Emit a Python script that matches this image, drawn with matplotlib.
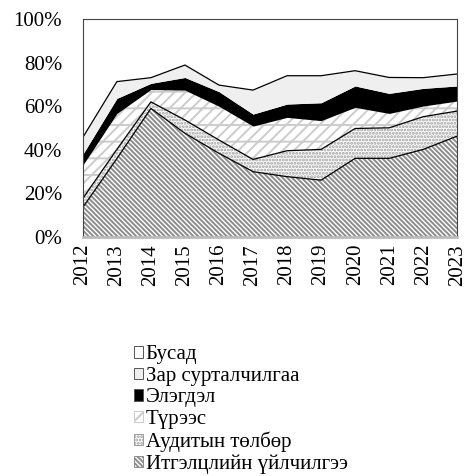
import matplotlib
matplotlib.use("Agg")
import matplotlib.pyplot as plt
from matplotlib.patches import Patch
import numpy as np

plt.rcParams["font.family"] = ["Liberation Serif", "DejaVu Serif"]
plt.rcParams["hatch.linewidth"] = 1.4

years = [str(y) for y in range(2012, 2024)]

# shares in percent
itgelts = [13.6, 36.0, 59.0, 47.6, 38.4, 30.0, 27.7, 26.1, 36.1, 36.1, 40.2, 46.3]
audit = [4.1, 4.2, 3.0, 6.1, 6.1, 5.6, 11.9, 14.1, 13.7, 14.0, 15.0, 11.5]
tures = [15.3, 16.5, 5.7, 13.7, 15.5, 15.3, 15.3, 13.2, 9.7, 6.6, 4.9, 4.6]
elegdel = [5.0, 6.9, 2.8, 5.8, 6.7, 5.5, 6.1, 8.2, 9.8, 9.2, 8.1, 6.9]
zar = [7.7, 7.7, 2.6, 5.7, 3.0, 11.0, 13.0, 12.4, 7.0, 7.3, 4.9, 5.5]
busad = [100 - sum(v) for v in zip(itgelts, audit, tures, elegdel, zar)]

labels = ["Итгэлцлийн үйлчилгээ", "Аудитын төлбөр", "Түрээс",
          "Элэгдэл", "Зар сурталчилгаа", "Бусад"]
series = [itgelts, audit, tures, elegdel, zar, busad]
faces = ["white", "white", "white", "black", "#efefef", "white"]
hatches = ["\\" * 7, ".....", "///-", None, None, None]
hcolors = ["#8c8c8c", "#9c9c9c", "#cccccc", "black", "black", "black"]
edges = [True, True, False, False, True, False]

fig = plt.figure(figsize=(4.68, 4.76), dpi=100)
ax = fig.add_axes([0.177, 0.502, 0.800, 0.458])

x = np.arange(len(years))
base = np.zeros(len(years))
handles = []
for vals, lab, fc, h, hc, ed in zip(series, labels, faces, hatches, hcolors, edges):
    top = base + np.array(vals)
    ax.fill_between(x, base, top, facecolor=fc, hatch=h,
                    edgecolor=hc, linewidth=0)
    if ed:
        ax.plot(x, top, color="black", lw=0.9)
    handles.append(Patch(facecolor=fc, hatch=h,
                         edgecolor=hc if h else "#555555", linewidth=0.7))
    base = top

ax.set_xlim(0, len(years) - 1)
ax.set_ylim(0, 100)
ax.set_xticks(x)
ax.set_xticklabels(years, rotation=90, fontsize=15)
ax.set_yticks(range(0, 101, 20))
ax.set_yticklabels([f"{v}%" for v in range(0, 101, 20)], fontsize=15)
ax.tick_params(axis="y", length=0, pad=15)
ax.tick_params(axis="x", length=0, pad=5)
for name, sp in ax.spines.items():
    sp.set_color("#444444")
    sp.set_linewidth(0.8)
ax.spines["bottom"].set_color("#bbbbbb")
ax.spines["bottom"].set_linewidth(2)

fig.legend(handles[::-1], labels[::-1], loc="upper left",
           bbox_to_anchor=(0.268, 0.292), frameon=False, fontsize=15,
           handlelength=0.45, handleheight=0.45, handletextpad=0.12,
           labelspacing=0.12, borderaxespad=0)

fig.savefig("out.png", dpi=100)
